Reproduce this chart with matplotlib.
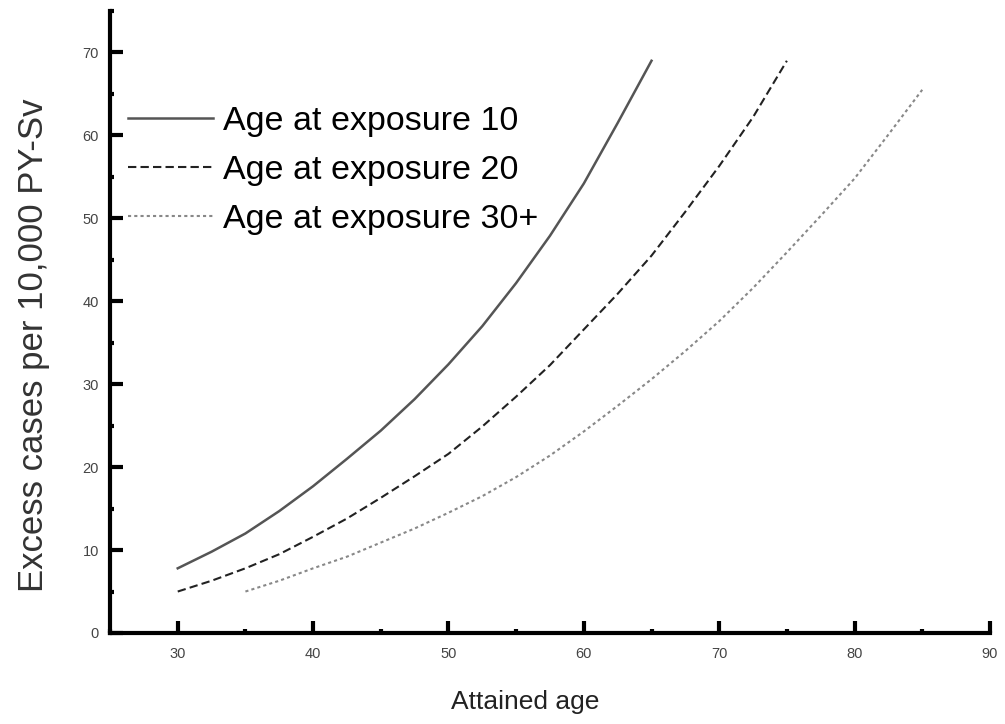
import matplotlib
matplotlib.use("Agg")
import matplotlib.pyplot as plt
from matplotlib.ticker import MultipleLocator

plt.rcParams['font.family'] = ['Liberation Sans', 'DejaVu Sans']

# values (attained age -> excess cases per 10,000 PY-Sv)
age_e10 = [30, 32.5, 35, 37.5, 40, 42.5, 45, 47.5, 50, 52.5, 55, 57.5, 60, 62.5, 65]
cases_e10 = [7.8, 9.8, 12.0, 14.7, 17.7, 21.0, 24.4, 28.2, 32.4, 37.0, 42.2, 47.9, 54.2, 61.5, 69.0]

age_e20 = [30, 32.5, 35, 37.5, 40, 42.5, 45, 47.5, 50, 52.5, 55, 57.5, 60, 62.5, 65, 67.5, 70, 72.5, 75]
cases_e20 = [5.0, 6.3, 7.8, 9.5, 11.6, 13.8, 16.3, 18.9, 21.6, 24.9, 28.5, 32.3, 36.6, 40.9, 45.5, 50.8, 56.3, 62.2, 69.0]

age_e30 = [35, 37.5, 40, 42.5, 45, 47.5, 50, 52.5, 55, 57.5, 60, 62.5, 65, 67.5, 70, 72.5, 75, 77.5, 80, 82.5, 85]
cases_e30 = [5.0, 6.3, 7.8, 9.2, 10.9, 12.6, 14.5, 16.5, 18.8, 21.4, 24.3, 27.4, 30.6, 34.0, 37.6, 41.6, 45.9, 50.3, 54.8, 60.1, 65.5]

labels = ["Age at exposure 10", "Age at exposure 20", "Age at exposure 30+"]

fig = plt.figure(figsize=(10.05, 7.24), dpi=100)
ax = fig.add_axes([0.1095, 0.1257, 0.8755, 0.8591])

ax.plot(age_e10, cases_e10, color='#555555', lw=1.8, ls='-', label=labels[0])
ax.plot(age_e20, cases_e20, color='#222222', lw=1.5, ls=(0, (4, 2)), label=labels[1])
ax.plot(age_e30, cases_e30, color='#888888', lw=1.5, ls=(0, (1.5, 1.5)), label=labels[2])

ax.set_xlim(25, 90)
ax.set_ylim(0, 75)
ax.xaxis.set_major_locator(MultipleLocator(10))
ax.xaxis.set_minor_locator(MultipleLocator(5))
ax.yaxis.set_major_locator(MultipleLocator(10))
ax.yaxis.set_minor_locator(MultipleLocator(5))

for s in ['top', 'right']:
    ax.spines[s].set_visible(False)
for s in ['left', 'bottom']:
    ax.spines[s].set_linewidth(3)

ax.tick_params(which='major', direction='in', length=9, width=3, labelsize=10.5,
               labelcolor='#444444')
ax.tick_params(which='minor', direction='in', length=3, width=3)
ax.tick_params(axis='y', which='major', pad=8)
ax.tick_params(axis='x', which='major', pad=10)

ax.set_xlabel("Attained age", fontsize=19, color='#222222')
ax.xaxis.set_label_coords(0.472, -0.092)
ax.set_ylabel("Excess cases per 10,000 PY-Sv", fontsize=25, color='#333333')
ax.yaxis.set_label_coords(-0.0685, 0.463)

ax.legend(loc='upper left', bbox_to_anchor=(-0.007, 0.885), frameon=False,
          fontsize=24.5, handlelength=2.5, handletextpad=0.3, labelspacing=0.52,
          borderaxespad=0.3)

fig.savefig("out.png", dpi=100)
